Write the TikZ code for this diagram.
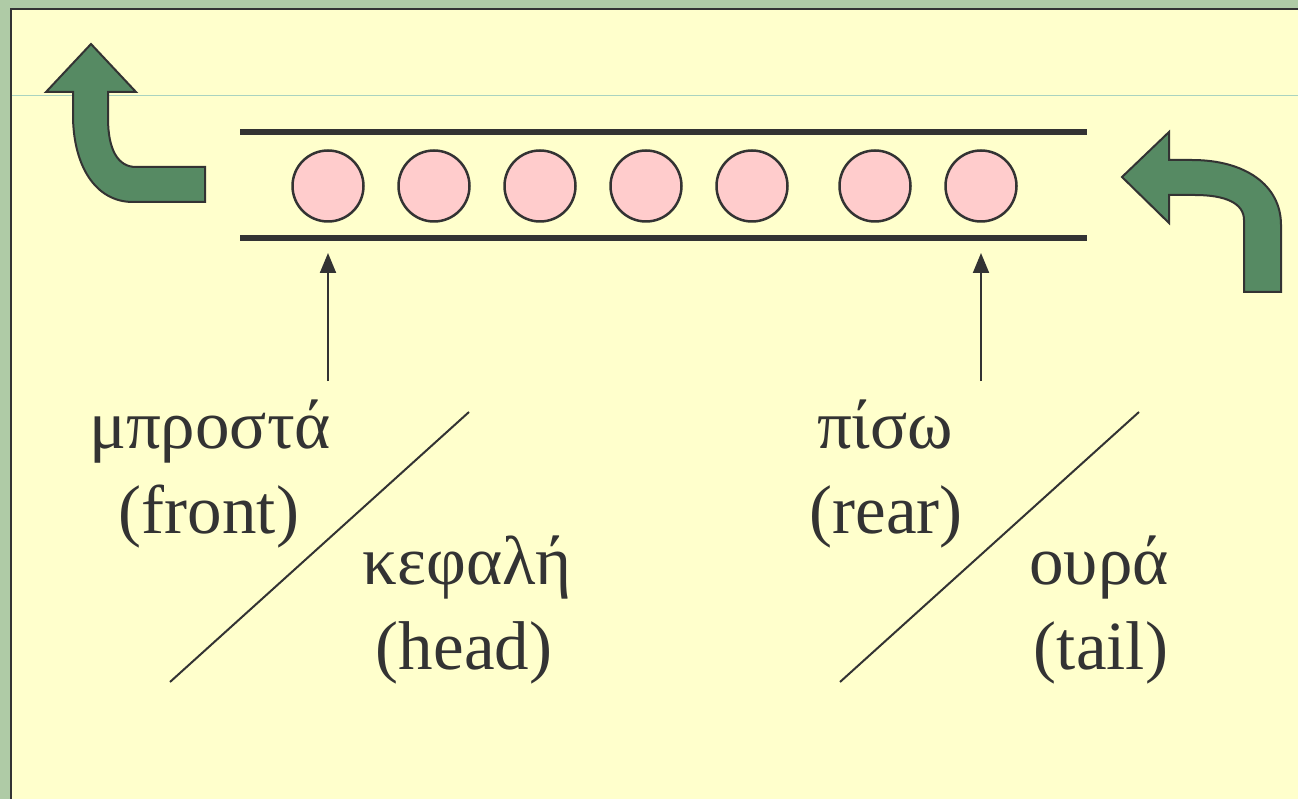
\documentclass[tikz,border=0pt]{standalone}
\usepackage{fontspec}
\setmainfont{Liberation Serif}
\usetikzlibrary{arrows.meta}
\definecolor{bggreen}{HTML}{AFCBA6}
\definecolor{panel}{HTML}{FFFFCC}
\definecolor{ink}{HTML}{333333}
\definecolor{ballpink}{HTML}{FFCCCC}
\definecolor{arrowgreen}{HTML}{568A63}
\definecolor{guide}{HTML}{A9D3C0}
\tikzset{
  ball/.style={circle, minimum size=71pt, inner sep=0pt, draw=ink, line width=2.5pt, fill=ballpink},
  tube/.style={draw=ink, line width=6pt},
  pointer/.style={draw=ink, line width=2pt, -{Triangle[length=20pt,width=16pt]}},
  slash/.style={draw=ink, line width=2pt},
  bigarrow/.style={draw=ink, line width=2pt, fill=arrowgreen, line join=miter},
  lbl/.style={anchor=base, inner sep=0pt, text=ink, font=\fontsize{69}{85}\selectfont}
}
\begin{document}
\begin{tikzpicture}[x=1pt,y=-1pt]
\useasboundingbox (0,0) rectangle (1298,799);
% background and panel
\fill[bggreen] (0,0) rectangle (1298,799);
\fill[panel] (11,9) rectangle (1298,799);
\draw[ink, line width=2.5pt] (11,799) -- (11,9) -- (1298,9);
\draw[guide, line width=1pt] (12,96) -- (1298,96);
% tube
\coordinate (tl1) at (240,132);
\coordinate (tl2) at (1087,132);
\coordinate (bl1) at (240,238);
\coordinate (bl2) at (1087,238);
\draw[tube] (tl1) -- (tl2);
\draw[tube] (bl1) -- (bl2);
% balls
\node[ball] (c1) at (328,186) {};
\node[ball] (c2) at (434,186) {};
\node[ball] (c3) at (540,186) {};
\node[ball] (c4) at (646,186) {};
\node[ball] (c5) at (752,186) {};
\node[ball] (c6) at (875,186) {};
\node[ball] (c7) at (981,186) {};
% pointers
\coordinate (fs) at (328,381);
\coordinate (fe) at (328,253);
\coordinate (rs) at (981,381);
\coordinate (re) at (981,253);
\draw[pointer] (fs) -- (fe);
\draw[pointer] (rs) -- (re);
% labels
\node[lbl] (front1) at (210,448) {μπροστά};
\node[lbl] (front2) at (209,533) {(front)};
\node[lbl] (head1) at (467,584) {κεφαλή};
\node[lbl] (head2) at (464,669) {(head)};
\node[lbl] (rear1) at (885,448) {πίσω};
\node[lbl] (rear2) at (886,533) {(rear)};
\node[lbl] (tail1) at (1099,584) {ουρά};
\node[lbl] (tail2) at (1101,669) {(tail)};
% slashes
\coordinate (s1a) at (170,682);
\coordinate (s1b) at (469,412);
\coordinate (s2a) at (840,682);
\coordinate (s2b) at (1139,412);
\draw[slash] (s1a) -- (s1b);
\draw[slash] (s2a) -- (s2b);
% left curved arrow (out)
\draw[bigarrow] (91,44) -- (136,92) -- (108,92) -- (108,118)
  .. controls (108,150) and (118,167) .. (136,167) -- (205,167) -- (205,202)
  -- (133,202) .. controls (95,202) and (73,165) .. (73,115) -- (73,92) -- (46,92) -- cycle;
% right curved arrow (in)
\draw[bigarrow] (1122,177) -- (1169,132) -- (1169,160) -- (1192,160)
  .. controls (1245,160) and (1281,185) .. (1281,225) -- (1281,292) -- (1244,292)
  -- (1244,220) .. controls (1244,203) and (1225,195) .. (1195,195) -- (1169,195) -- (1169,223) -- cycle;
\end{tikzpicture}
\end{document}
